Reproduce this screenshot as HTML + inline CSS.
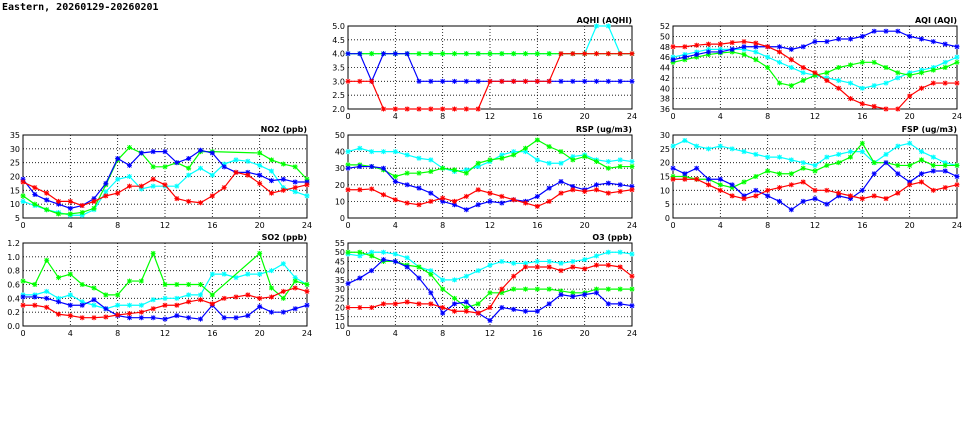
<!DOCTYPE html>
<html><head><meta charset="utf-8"><style>
html,body{margin:0;padding:0;background:#fff;}
svg{display:block;}
text{font-family:"DejaVu Sans","Liberation Sans",sans-serif;font-size:8px;fill:#000;}
</style></head><body>
<svg id="s" width="975" height="447" xmlns="http://www.w3.org/2000/svg">
<text x="2" y="10" style="font-size:10px;font-weight:bold;font-family:'DejaVu Sans Mono','Liberation Mono',monospace">Eastern, 20260129-20260201</text>
</svg>
<script>
const S=document.getElementById('s');const NS='http://www.w3.org/2000/svg';
function el(t,a,txt){const e=document.createElementNS(NS,t);for(const k in a)e.setAttribute(k,a[k]);if(txt!==undefined)e.textContent=txt;S.appendChild(e);return e;}
const C={r:'#ff0000',b:'#0000ff',g:'#00ff00',c:'#00ffff'};
function panel(x0,y0,title,ymin,ymax,step,dec,series){
 const w=284,h=83,x1=x0+w,y1=y0+h;
 const X=v=>x0+v/24*w,Y=v=>y1-(v-ymin)/(ymax-ymin)*h;
 el('rect',{x:x0,y:y0,width:w,height:h,fill:'#fff',stroke:'#000','stroke-width':1});
 for(let v=ymin;v<=ymax+1e-9;v+=step){const y=Y(v);
  if(v>ymin+1e-9&&v<ymax-1e-9)el('line',{x1:x0,x2:x1,y1:y,y2:y,stroke:'#000','stroke-width':0.8,'stroke-dasharray':'1,2'});
  el('text',{x:x0-3,y:y+3,'text-anchor':'end'},v.toFixed(dec));}
 for(let v=0;v<=24;v+=4){const x=X(v);
  if(v>0&&v<24)el('line',{x1:x,x2:x,y1:y0,y2:y1,stroke:'#000','stroke-width':0.8,'stroke-dasharray':'1,2'});
  el('text',{x:x,y:y1+10,'text-anchor':'middle'},v);}
 el('text',{x:x1,y:y0-3,'text-anchor':'end',style:'font-weight:bold'},title);
 for(const [k,d] of series){const pts=[];d.forEach((v,i)=>{if(v!==null)pts.push([X(i),Y(Math.max(ymin,Math.min(ymax,v)))])});
  el('polyline',{points:pts.map(p=>p.join(',')).join(' '),fill:'none',stroke:C[k],'stroke-width':1.2});
  let p='';for(const [x,y] of pts){p+=`M${x-2.5},${y}h5M${x},${y-2.5}v5M${x-2},${y-2}l4,4M${x-2},${y+2}l4,-4`;}
  el('path',{d:p,stroke:C[k],'stroke-width':1,fill:'none'});}
}
panel(348,26,'AQHI (AQHI)',2,5,0.5,1,[
['c',[4,4,4,4,4,4,4,4,4,4,4,4,4,4,4,4,4,4,4,4,4,5,5,4,4]],
['g',[4,4,4,4,4,4,4,4,4,4,4,4,4,4,4,4,4,4,4,4,4,4,4,4,4]],
['b',[4,4,3,4,4,4,3,3,3,3,3,3,3,3,3,3,3,3,3,3,3,3,3,3,3]],
['r',[3,3,3,2,2,2,2,2,2,2,2,2,3,3,3,3,3,3,4,4,4,4,4,4,4]]]);
panel(673,26,'AQI (AQI)',36,52,2,0,[
['c',[46,46.5,47,47.5,47.5,47.5,47.5,47,46,45,44,43,42.5,42,41.5,41,40,40.5,41,42,43,43.5,44,45,46]],
['g',[45,45.5,46,46.5,46.8,47,46.5,45.5,44,41,40.5,41.5,42.5,43,44,44.5,45,45,44,43,42.5,43,43.5,44,45]],
['b',[45.5,46,46.5,47,47,47.5,48,48,48,48,47.5,48,49,49,49.5,49.5,50,51,51,51,50,49.5,49,48.5,48]],
['r',[48,48,48.3,48.5,48.5,48.8,49,48.7,48,47,45.5,44,43,41.5,40,38,37,36.5,36,36,38.5,40,41,41,41]]]);
panel(23,135,'NO2 (ppb)',5,35,5,0,[
['c',[11,9.5,8,7,6,6,8,14.5,19,20,15.5,16.5,16.5,16.5,20.5,23,20.5,24.5,26,25.5,24,22,16,14.5,13]],
['g',[13,10,8,6.5,6.5,7,8.5,17,26,30.5,28.5,23.5,23.5,25,23,29,29,null,null,null,28.5,26,24.5,23.5,19]],
['b',[19,13.5,11.5,10,8.5,9.5,12,17.5,26.5,24,28.5,29,29,25,26.5,29.5,28.5,23.5,21.5,21.5,20.5,18.5,19,18,18]],
['r',[18,16,14,11,11,9.5,11,13,14,16.5,16.5,19,17,12,11,10.5,13,16,21.5,20.5,17.5,14,15,16,17]]]);
panel(348,135,'RSP (ug/m3)',0,50,10,0,[
['c',[40,42,40,40,40,38,36,35,30,28,29,31,34,38,40,40,35,33,33,37,38,35,34,35,34]],
['g',[32,32,31,29,25,27,27,28,30,29,27,33,35,36,38,42,47,43,40,35,37,34,30,31,31]],
['b',[30,31,31,30,22,20,18,15,10,8,5,8,10,9,11,10,13,18,22,19,17,20,21,20,19]],
['r',[17,17,17.5,14,11,9,8,10,12,10,13,17,15,13,11,9,7,10,15,17,16,17,15,16,17]]]);
panel(673,135,'FSP (ug/m3)',0,30,5,0,[
['c',[26,28,26,25,26,25,24,23,22,22,21,20,19,22,23,24,24,20,23,26,27,24,22,20,19]],
['g',[15,15,14,14,12,11,13,15,17,16,16,18,17,19,20,22,27,20,20,19,19,21,19,19,19]],
['b',[18,16,18,14,14,12,8,10,8,6,3,6,7,5,8,7,10,16,20,16,13,16,17,17,15]],
['r',[14,14,14,12,10,8,7,8,10,11,12,13,10,10,9,8,7,8,7,9,12,13,10,11,12]]]);
panel(23,243,'SO2 (ppb)',0,1.2,0.2,1,[
['c',[0.45,0.45,0.5,0.4,0.45,0.35,0.3,0.25,0.3,0.3,0.3,0.38,0.4,0.4,0.45,0.45,0.75,0.75,0.7,0.75,0.75,0.8,0.9,0.7,0.6]],
['g',[0.65,0.6,0.95,0.7,0.75,0.6,0.55,0.45,0.45,0.65,0.65,1.05,0.6,0.6,0.6,0.6,0.45,null,null,null,1.05,0.55,0.4,0.65,0.6]],
['b',[0.42,0.42,0.4,0.35,0.3,0.3,0.38,0.25,0.15,0.12,0.12,0.12,0.1,0.15,0.12,0.1,0.3,0.12,0.12,0.15,0.28,0.2,0.2,0.25,0.3]],
['r',[0.3,0.3,0.27,0.17,0.15,0.12,0.12,0.13,0.16,0.18,0.2,0.25,0.3,0.3,0.35,0.38,0.32,0.4,0.42,0.45,0.4,0.42,0.5,0.55,0.5]]]);
panel(348,243,'O3 (ppb)',10,55,5,0,[
['c',[49,48,50,50,49,47,42,40,35,35,37,40,43,45,44,44,45,45,44,45,46,48,50,50,49]],
['g',[50,50,48,45,45,43,42,38,30,25,20,22,28,28,30,30,30,30,29,28,28,30,30,30,30]],
['b',[33,36,40,46,45,42,36,28,17,22,23,17,13,20,19,18,18,22,27,26,27,28,22,22,21]],
['r',[20,20,20,22,22,23,22,22,20,18,18,17,20,30,37,42,42,42,40,42,41,43,43,42,37]]]);
</script>
</body></html>
